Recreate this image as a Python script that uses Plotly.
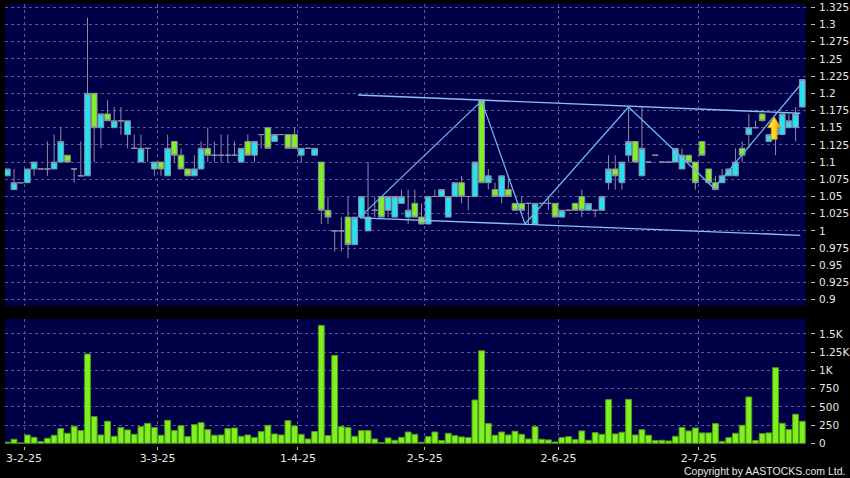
import plotly.graph_objects as go

# ---------------- data ----------------
open_ = [1.08,1.06,1.07,1.07,1.09,1.09,1.09,1.09,1.10,1.11,
         1.09,1.08,1.08,1.20,1.15,1.17,1.15,1.16,1.14,1.12,
         1.10,1.12,1.09,1.10,1.08,1.13,1.11,1.09,1.08,1.09,
         1.12,1.11,1.11,1.11,1.11,1.10,1.13,1.11,1.14,1.15,
         1.13,1.14,1.14,1.14,1.11,1.12,1.11,1.10,1.03,1.00,
         1.00,1.02,0.98,1.02,1.00,1.03,1.05,1.03,1.02,1.04,
         1.02,1.04,1.02,1.01,1.05,1.05,1.02,1.05,1.07,1.05,
         1.05,1.19,1.07,1.06,1.05,1.06,1.04,1.04,1.04,1.01,
         1.04,1.04,1.04,1.02,1.03,1.04,1.05,1.03,1.03,1.03,
         1.07,1.09,1.07,1.11,1.13,1.08,1.10,1.11,1.10,1.10,
         1.10,1.09,1.11,1.10,1.13,1.09,1.07,1.07,1.08,1.08,
         1.12,1.14,1.15,1.17,1.13,1.14,1.14,1.15,1.15,1.18]

high = [1.09,1.09,1.07,1.09,1.10,1.09,1.13,1.14,1.15,1.11,
        1.09,1.13,1.31,1.20,1.17,1.19,1.18,1.18,1.16,1.14,
        1.14,1.12,1.10,1.10,1.14,1.13,1.12,1.09,1.11,1.13,
        1.15,1.13,1.14,1.14,1.13,1.12,1.14,1.13,1.14,1.15,
        1.14,1.14,1.14,1.15,1.12,1.12,1.12,1.10,1.05,1.00,
        1.02,1.05,1.02,1.05,1.10,1.05,1.05,1.05,1.05,1.06,
        1.06,1.06,1.04,1.05,1.06,1.06,1.05,1.07,1.08,1.05,
        1.10,1.19,1.09,1.07,1.08,1.08,1.04,1.05,1.04,1.04,
        1.04,1.05,1.04,1.03,1.03,1.04,1.06,1.04,1.03,1.05,
        1.11,1.11,1.10,1.18,1.13,1.18,1.10,1.11,1.10,1.10,
        1.12,1.12,1.11,1.10,1.13,1.09,1.08,1.09,1.09,1.12,
        1.13,1.17,1.16,1.17,1.14,1.16,1.17,1.17,1.18,1.22]

low = [1.08,1.06,1.07,1.07,1.08,1.09,1.08,1.09,1.10,1.10,
       1.07,1.08,1.08,1.10,1.12,1.16,1.15,1.14,1.12,1.12,
       1.10,1.10,1.08,1.08,1.08,1.10,1.09,1.08,1.08,1.09,
       1.10,1.10,1.10,1.10,1.11,1.10,1.11,1.10,1.12,1.12,
       1.13,1.14,1.12,1.12,1.10,1.12,1.11,1.01,1.01,0.97,
       0.97,0.96,0.98,1.02,1.00,1.02,1.02,1.02,1.02,1.04,
       1.01,1.02,1.01,1.01,1.05,1.05,1.02,1.05,1.04,1.03,
       1.05,1.07,1.06,1.05,1.04,1.05,1.03,1.03,1.01,1.01,
       1.04,1.03,1.02,1.02,1.03,1.03,1.02,1.03,1.02,1.03,
       1.06,1.06,1.06,1.10,1.10,1.08,1.10,1.11,1.10,1.10,
       1.10,1.09,1.10,1.06,1.11,1.07,1.06,1.07,1.08,1.08,
       1.10,1.12,1.15,1.16,1.13,1.11,1.14,1.15,1.13,1.18]

close = [1.09,1.07,1.07,1.09,1.10,1.09,1.09,1.10,1.13,1.10,
         1.09,1.08,1.20,1.15,1.17,1.16,1.16,1.16,1.16,1.12,
         1.12,1.12,1.10,1.09,1.12,1.11,1.09,1.08,1.09,1.12,
         1.11,1.11,1.11,1.11,1.11,1.12,1.11,1.13,1.14,1.12,
         1.14,1.14,1.12,1.12,1.12,1.12,1.12,1.03,1.02,1.00,
         1.00,0.98,1.02,1.05,1.02,1.03,1.02,1.05,1.05,1.05,
         1.03,1.02,1.01,1.05,1.05,1.06,1.05,1.07,1.05,1.05,
         1.10,1.07,1.08,1.05,1.08,1.05,1.03,1.03,1.04,1.04,
         1.04,1.04,1.02,1.03,1.03,1.03,1.03,1.04,1.03,1.05,
         1.09,1.08,1.10,1.13,1.10,1.12,1.10,1.11,1.10,1.10,
         1.12,1.11,1.10,1.07,1.11,1.07,1.06,1.08,1.09,1.10,
         1.11,1.15,1.15,1.16,1.14,1.15,1.17,1.16,1.17,1.22]

volume = [15,55,5,114,82,23,69,110,201,137,
          233,174,1225,366,114,302,96,215,183,123,
          228,274,215,110,315,174,242,91,256,283,
          187,110,114,201,210,96,114,78,160,247,
          128,114,311,238,123,59,160,1618,105,1206,
          228,215,96,174,174,59,9,73,41,82,
          155,123,14,91,155,37,137,105,87,78,
          594,1270,270,110,155,114,165,123,59,228,
          55,46,18,78,91,50,169,41,146,123,
          599,128,151,603,114,187,110,37,41,32,
          96,219,169,210,142,142,270,27,78,137,
          247,635,37,133,142,1037,274,187,398,302]

day_index = list(range(len(close)))

# trading-day index of each labelled date
date_labels = ["3-2-25", "3-3-25", "1-4-25", "2-5-25", "2-6-25", "2-7-25"]
date_label_index = [3, 23, 44, 63, 83, 104]

price_tick_vals = [0.9, 0.925, 0.95, 0.975, 1.0, 1.025, 1.05, 1.075, 1.1,
                   1.125, 1.15, 1.175, 1.2, 1.225, 1.25, 1.275, 1.3, 1.325]
price_tick_text = ["0.9", "0.925", "0.95", "0.975", "1", "1.025", "1.05", "1.075", "1.1",
                   "1.125", "1.15", "1.175", "1.2", "1.225", "1.25", "1.275", "1.3", "1.325"]
vol_tick_vals = [0, 250, 500, 750, 1000, 1250, 1500]
vol_tick_text = ["0", "250", "500", "750", "1K", "1.25K", "1.5K"]

# drawn trend lines (day index, price)
upper_line_x = [52.5, 118.7]
upper_line_y = [1.1975, 1.171]
lower_line_x = [52.8, 118.7]
lower_line_y = [1.019, 0.9936]
zigzag_x = [52.8, 71.0, 77.5, 93.0, 105.8, 119.3]
zigzag_y = [1.020, 1.189, 1.010, 1.180, 1.062, 1.219]

# breakout arrow marker (day index, prices)
arrow_day = 114.8
arrow_tip = 1.166
arrow_head_base = 1.150
arrow_bottom = 1.133

# ---------------- styling ----------------
NAVY = "#000048"
CYAN = "#26E2F0"
GREEN = "#80F020"
WICK = "#8C8CA4"
GRID = "#5A5A8E"
TXT = "#E6E6E6"
LINE = "#6DB2EE"
FONT = "DejaVu Sans"

fig = go.Figure()

fig.add_trace(go.Candlestick(
    x=day_index, open=open_, high=high, low=low, close=close,
    increasing=dict(fillcolor=CYAN, line=dict(color=WICK, width=1)),
    decreasing=dict(fillcolor=GREEN, line=dict(color=WICK, width=1)),
    whiskerwidth=0, xaxis="x", yaxis="y", hoverinfo="skip", showlegend=False,
))

for lx, ly, lc in [(upper_line_x, upper_line_y, "#86C2F4"),
                   (lower_line_x, lower_line_y, "#86C2F4"),
                   (zigzag_x, zigzag_y, LINE)]:
    fig.add_trace(go.Scatter(x=lx, y=ly, mode="lines",
                             line=dict(color=lc, width=1.3),
                             xaxis="x", yaxis="y", hoverinfo="skip", showlegend=False))

hw, sw = 1.0, 0.45
ax = [arrow_day, arrow_day + hw, arrow_day + sw, arrow_day + sw,
      arrow_day - sw, arrow_day - sw, arrow_day - hw, arrow_day]
ay = [arrow_tip, arrow_head_base, arrow_head_base, arrow_bottom,
      arrow_bottom, arrow_head_base, arrow_head_base, arrow_tip]
fig.add_trace(go.Scatter(
    x=ax, y=ay, mode="lines", fill="toself",
    fillgradient=dict(type="horizontal",
                      colorscale=[[0, "#FFF060"], [0.55, "#FFD21E"], [1, "#E08A00"]]),
    line=dict(color="#D89000", width=0.6),
    xaxis="x", yaxis="y", hoverinfo="skip", showlegend=False,
))

fig.add_trace(go.Bar(
    x=day_index, y=volume,
    marker=dict(color=GREEN, line=dict(color="#4E9A14", width=1)),
    xaxis="x2", yaxis="y2", hoverinfo="skip", showlegend=False,
))

grid_pos = [d - 0.5 for d in date_label_index]
x_range = [-0.35, 119.56]

W, H = 850, 478
ml, mr, mt, mb = 5, 30, 4, 30
pw, ph = W - ml - mr, H - mt - mb

def px_x(p):
    return (p - ml) / pw

def px_y(p):
    return (H - mb - p) / ph

x_dom = [0, px_x(806)]
common_x = dict(range=x_range, domain=x_dom, showgrid=True, gridcolor=GRID,
                griddash="3px,3px", gridwidth=1, zeroline=False, showline=False,
                fixedrange=True, automargin=False)
common_y = dict(side="right", anchor="free", position=px_x(810),
                ticks="outside", ticklen=4, tickcolor="#BDBDBD", tickwidth=1,
                ticklabelstandoff=2, automargin=False,
                showgrid=True, gridcolor=GRID, griddash="3px,3px", gridwidth=1,
                zeroline=False, showline=False, fixedrange=True,
                tickfont=dict(family=FONT, size=10.5, color=TXT))

fig.update_layout(
    width=W, height=H, autosize=False,
    margin=dict(l=ml, r=mr, t=mt, b=mb, autoexpand=False),
    paper_bgcolor="#000000", plot_bgcolor=NAVY,
    boxgap=0.1, boxgroupgap=0.05, bargap=0.12,
    font=dict(family=FONT, color=TXT, size=11),
    xaxis=dict(**common_x, tickvals=grid_pos, anchor="y", showticklabels=False, ticks="",
               rangeslider=dict(visible=False)),
    yaxis=dict(**common_y, domain=[px_y(306), 1], range=[0.8908, 1.3298],
               tickvals=price_tick_vals, ticktext=price_tick_text),
    xaxis2=dict(**common_x, tickvals=grid_pos, ticktext=date_labels,
                anchor="free", position=px_y(446),
                ticks="outside", ticklen=3, tickcolor="#BDBDBD",
                ticklabelstandoff=-1,
                tickfont=dict(family=FONT, size=11, color=TXT)),
    yaxis2=dict(**common_y, domain=[px_y(444), px_y(319)], range=[-10, 1705],
                tickvals=vol_tick_vals, ticktext=vol_tick_text),
    annotations=[dict(text="Copyright by AASTOCKS.com Ltd.", xref="paper", yref="paper",
                      x=px_x(847), y=px_y(471), xanchor="right", yanchor="middle",
                      showarrow=False,
                      font=dict(family="Liberation Sans", size=10.5, color=TXT))],
)

fig.write_html(
    "out.html",
    config={"displayModeBar": False, "staticPlot": True, "responsive": False},
    post_script=(
        "document.documentElement.style.margin='0';"
        "document.body.style.margin='0';document.body.style.padding='0';"
        "document.body.style.overflow='hidden';document.body.style.background='#000';"
    ),
)
